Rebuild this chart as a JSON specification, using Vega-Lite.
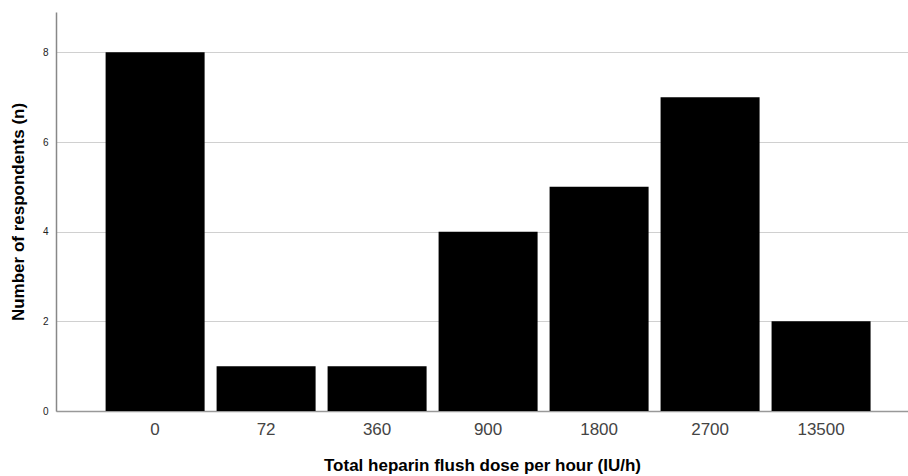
{
  "$schema": "https://vega.github.io/schema/vega-lite/v6.json",
  "autosize": {"type": "none"},
  "width": 852,
  "height": 399,
  "padding": {"left": 56, "top": 12, "right": 0, "bottom": 65},
  "background": "white",
  "config": {"view": {"stroke": null}, "font": "Liberation Sans"},
  "data": {"values": [
    {"dose": "0", "n": 8},
    {"dose": "72", "n": 1},
    {"dose": "360", "n": 1},
    {"dose": "900", "n": 4},
    {"dose": "1800", "n": 5},
    {"dose": "2700", "n": 7},
    {"dose": "13500", "n": 2}
  ]},
  "mark": {"type": "bar", "color": "black"},
  "encoding": {
    "x": {
      "field": "dose", "type": "ordinal", "sort": null,
      "scale": {"paddingInner": 0.108, "paddingOuter": 0.392, "align": 0.57},
      "axis": {
        "title": "Total heparin flush dose per hour (IU/h)",
        "titleFont": "Liberation Sans", "titleFontSize": 17, "titleFontWeight": "bold", "titleColor": "black",
        "titlePadding": 20,
        "labelAngle": 0, "labelFontSize": 17, "labelColor": "#444", "labelPadding": 10,
        "ticks": false, "domainColor": "#999", "domainWidth": 1.5, "grid": false
      }
    },
    "y": {
      "field": "n", "type": "quantitative",
      "scale": {"domain": [0, 8.9], "nice": false},
      "axis": {
        "title": "Number of respondents (n)",
        "titleFont": "Liberation Sans", "titleFontSize": 17, "titleFontWeight": "bold", "titleColor": "black",
        "titlePadding": 15,
        "values": [0, 2, 4, 6, 8],
        "labelFontSize": 10, "labelColor": "#222", "labelPadding": 8,
        "ticks": false, "domainColor": "#888", "domainWidth": 1.5,
        "grid": true, "gridColor": "#d0d0d0", "gridWidth": 1.2
      }
    }
  }
}
